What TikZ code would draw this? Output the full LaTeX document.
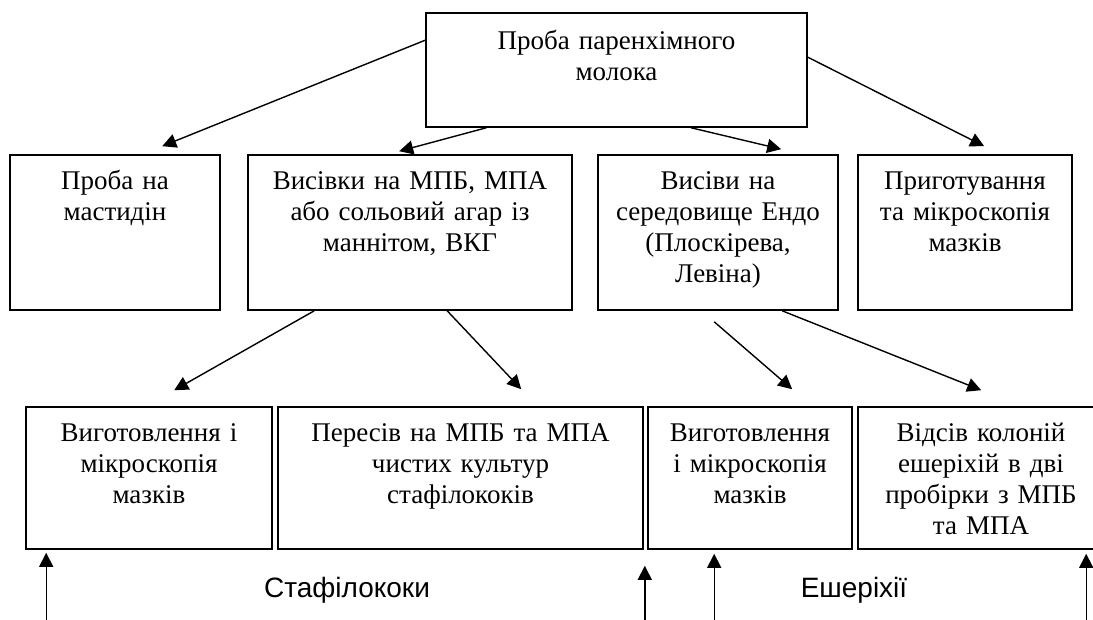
\documentclass[tikz,border=0pt]{standalone}
\usepackage{fontspec}
\setmainfont{Liberation Serif}
\newfontfamily\labelfont{Liberation Sans}
\usetikzlibrary{arrows.meta,calc}
\begin{document}
\begin{tikzpicture}[x=1pt,y=-1pt,
  box/.style={draw, line width=1.6pt, inner sep=0pt},
  row2/.style={box, minimum height=155pt},
  row3/.style={box, minimum height=142pt},
  txt/.style={inner sep=0pt, align=center, anchor=base, font=\fontsize{27}{31}\selectfont},
  lbl/.style={inner sep=0pt, anchor=base, font=\labelfont\fontsize{28}{32}\selectfont},
  arr/.style={line width=1.4pt, -{Triangle[length=14pt,width=14pt]}}]
\useasboundingbox (0,0) rectangle (1093,619);

% top box
\node[box, minimum width=381pt, minimum height=114pt] (T) at (616.5,70) {};
\node[txt, text width=370pt] (Tt) at ($(T.north)+(0,37)$) {Проба паренхімного\\молока};

% second row
\node[row2, minimum width=210pt] (A) at (115,232.5) {};
\node[txt, text width=200pt] (At) at ($(A.north)+(0,35)$) {Проба на\\мастидін};
\node[row2, minimum width=324pt] (B) at (410,232.5) {};
\node[txt, text width=314pt] (Bt) at ($(B.north)+(0,35)$) {Висівки на МПБ, МПА\\або сольовий агар із\\маннітом, ВКГ};
\node[row2, minimum width=240pt] (C) at (718,232.5) {};
\node[txt, text width=232pt] (Ct) at ($(C.north)+(0,35)$) {Висіви на\\середовище Ендо\\(Плоскірева,\\Левіна)};
\node[row2, minimum width=214pt] (D) at (965,232.5) {};
\node[txt, text width=206pt] (Dt) at ($(D.north)+(0,35)$) {Приготування\\та мікроскопія\\мазків};

% third row
\node[row3, minimum width=246pt] (E) at (149,478) {};
\node[txt, text width=238pt] (Et) at ($(E.north)+(0,35)$) {Виготовлення і\\мікроскопія\\мазків};
\node[row3, minimum width=365pt] (F) at (460.5,478) {};
\node[txt, text width=355pt] (Ft) at ($(F.north)+(0,35)$) {Пересів на МПБ та МПА\\чистих культур\\стафілококів};
\node[row3, minimum width=204pt] (G) at (750,478) {};
\node[txt, text width=200pt] (Gt) at ($(G.north)+(0,35)$) {Виготовлення\\і мікроскопія\\мазків};
\node[row3, minimum width=246pt] (H) at (981,478) {};
\node[txt, text width=238pt] (Ht) at ($(H.north)+(0,35)$) {Відсів колоній\\ешеріхій в дві\\пробірки з МПБ\\та МПА};

% arrows from top box
\draw[arr] ($(T.north west)+(0,28)$) -- ($(A.north west)+(153,-8)$);
\draw[arr] ($(T.south west)+(61,0)$) -- ($(B.north west)+(152,-3)$);
\draw[arr] ($(T.south west)+(266,0)$) -- ($(C.north west)+(184,-5)$);
\draw[arr] ($(T.north east)+(0,45)$) -- ($(D.north west)+(127,-8)$);

% arrows from second row
\draw[arr] ($(B.south west)+(67,0)$) -- ($(E.north west)+(149,-16)$);
\draw[arr] ($(B.south west)+(200,0)$) -- ($(F.north west)+(244,-17)$);
\draw[arr] ($(C.south west)+(117,11)$) -- ($(G.north west)+(145,-17)$);
\draw[arr] ($(C.south west)+(185,0)$) -- ($(H.north west)+(124,-16)$);

% vertical arrows from below
\coordinate (s1) at ($(E.south west)+(21,70)$);
\coordinate (s2) at ($(F.south east)+(1,70)$);
\coordinate (s3) at ($(G.south west)+(67,70)$);
\coordinate (s4) at ($(H.south west)+(229,70)$);
\draw[arr] (s1) -- ($(E.south west)+(21,3)$);
\draw[arr] (s2) -- ($(F.south east)+(1,16)$);
\draw[arr] (s3) -- ($(G.south west)+(67,4)$);
\draw[arr] (s4) -- ($(H.south west)+(229,4)$);

% labels
\node[lbl] (L1) at (347,597) {Стафілококи};
\node[lbl] (L2) at (854,597) {Ешеріхії};
\end{tikzpicture}
\end{document}
